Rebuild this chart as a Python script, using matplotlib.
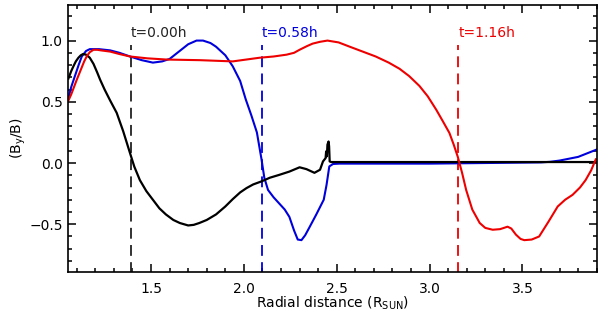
import matplotlib
matplotlib.use("Agg")
import matplotlib.pyplot as plt
from matplotlib.ticker import MultipleLocator

plt.rcParams["font.family"] = ["DejaVu Sans"]
plt.rcParams["mathtext.default"] = "regular"

# data
black_x = [1.055, 1.07, 1.082, 1.095, 1.109, 1.122, 1.134, 1.15, 1.17, 1.19, 1.21, 1.226,
           1.25, 1.28, 1.315, 1.35, 1.387, 1.41, 1.44, 1.475, 1.51, 1.545, 1.58, 1.62,
           1.655, 1.70, 1.73, 1.76, 1.80, 1.85, 1.90, 1.94, 1.98, 2.014, 2.05, 2.095,
           2.14, 2.19, 2.245, 2.30, 2.337, 2.38, 2.41, 2.426, 2.44, 2.443, 2.447, 2.45,
           2.456, 2.459, 2.462, 2.47, 2.8, 3.2, 3.6, 3.9]
black_y = [0.69, 0.75, 0.79, 0.83, 0.86, 0.88, 0.89, 0.885, 0.86, 0.81, 0.74, 0.68,
           0.60, 0.51, 0.41, 0.26, 0.08, -0.03, -0.14, -0.23, -0.30, -0.37, -0.42, -0.465,
           -0.49, -0.51, -0.505, -0.49, -0.465, -0.42, -0.355, -0.295, -0.24, -0.205, -0.175, -0.15,
           -0.12, -0.097, -0.07, -0.035, -0.05, -0.08, -0.055, 0.013, 0.04, 0.095, 0.055, 0.15,
           0.176, 0.136, 0.013, 0.008, 0.008, 0.008, 0.008, 0.008]

blue_x = [1.055, 1.07, 1.09, 1.11, 1.127, 1.15, 1.17, 1.22, 1.28, 1.33, 1.387, 1.45,
          1.51, 1.56, 1.60, 1.65, 1.70, 1.745, 1.78, 1.82, 1.85, 1.90, 1.94, 1.98, 2.01,
          2.04, 2.07, 2.095, 2.11, 2.13, 2.16, 2.19, 2.22, 2.245, 2.27, 2.29, 2.31, 2.33,
          2.355, 2.39, 2.43, 2.445, 2.46, 2.48, 2.515, 3.0, 3.6, 3.65, 3.7, 3.75, 3.8,
          3.85, 3.9]
blue_y = [0.53, 0.62, 0.71, 0.80, 0.87, 0.915, 0.93, 0.93, 0.92, 0.90, 0.87, 0.84,
          0.82, 0.83, 0.85, 0.91, 0.97, 1.0, 1.0, 0.98, 0.95, 0.88, 0.79, 0.67, 0.52,
          0.39, 0.25, 0.03, -0.12, -0.22, -0.28, -0.33, -0.38, -0.44, -0.55, -0.625, -0.63, -0.59,
          -0.52, -0.42, -0.30, -0.18, -0.028, -0.008, -0.005, -0.005, 0.005, 0.01, 0.02, 0.035,
          0.05, 0.08, 0.11]

red_x = [1.055, 1.07, 1.085, 1.10, 1.12, 1.14, 1.155, 1.17, 1.19, 1.21, 1.23, 1.28,
         1.33, 1.387, 1.48, 1.585, 1.763, 1.94, 2.085, 2.16, 2.23, 2.27, 2.30, 2.34,
         2.37, 2.41, 2.45, 2.51, 2.57, 2.64, 2.71, 2.78, 2.838, 2.89, 2.945, 2.99,
         3.036, 3.07, 3.107, 3.13, 3.152, 3.175, 3.197, 3.23, 3.27, 3.30, 3.34, 3.38,
         3.42, 3.44, 3.465, 3.49, 3.51, 3.55, 3.59, 3.64, 3.69, 3.73, 3.77, 3.81,
         3.84, 3.87, 3.895]
red_y = [0.51, 0.56, 0.62, 0.68, 0.755, 0.83, 0.875, 0.905, 0.925, 0.925, 0.92, 0.91,
         0.89, 0.87, 0.855, 0.845, 0.84, 0.83, 0.86, 0.87, 0.885, 0.90, 0.925, 0.955,
         0.975, 0.99, 1.0, 0.985, 0.95, 0.91, 0.87, 0.82, 0.77, 0.71, 0.63, 0.545,
         0.435, 0.345, 0.245, 0.15, 0.05, -0.08, -0.22, -0.38, -0.49, -0.53, -0.545, -0.54,
         -0.52, -0.535, -0.585, -0.62, -0.63, -0.625, -0.60, -0.48, -0.355, -0.30, -0.26, -0.20,
         -0.14, -0.06, 0.03]

markers_x = [1.39, 2.095, 3.155]
markers_lbl = ["t=0.00h", "t=0.58h", "t=1.16h"]
markers_col = ["#222222", "#0000dd", "#ee0000"]

fig = plt.figure(figsize=(6.0, 3.17), dpi=100)
ax = fig.add_axes([0.114, 0.142, 0.8805, 0.842])

for xv, lbl, c in zip(markers_x, markers_lbl, markers_col):
    ax.plot([xv, xv], [-0.9, 0.96], color=c, lw=1.3, dashes=(6, 3.5))
    ax.text(xv, 1.065, lbl, color=c, ha="left", va="center", fontsize=10)

ax.plot(blue_x, blue_y, color="#0000dd", lw=1.5)
ax.plot(black_x, black_y, color="black", lw=1.6)
ax.plot(red_x, red_y, color="#ee0000", lw=1.5)

ax.set_xlim(1.055, 3.9)
ax.set_ylim(-0.89, 1.29)
ax.xaxis.set_major_locator(MultipleLocator(0.5))
ax.xaxis.set_minor_locator(MultipleLocator(0.1))
ax.yaxis.set_major_locator(MultipleLocator(0.5))
ax.yaxis.set_minor_locator(MultipleLocator(0.1))
ax.tick_params(which="both", direction="in", top=True, right=True, width=1.1, labelsize=10)
ax.tick_params(which="major", length=6)
ax.tick_params(which="minor", length=3)
ax.tick_params(axis="x", pad=7)
ax.tick_params(axis="y", pad=4)
for s in ax.spines.values():
    s.set_linewidth(1.2)

ax.set_xlabel(r"Radial distance (R$_{SUN}$)", fontsize=10, labelpad=-1)
ax.set_ylabel(r"(B$_y$/B)", fontsize=10, labelpad=1)

fig.savefig("out.png", dpi=100)
